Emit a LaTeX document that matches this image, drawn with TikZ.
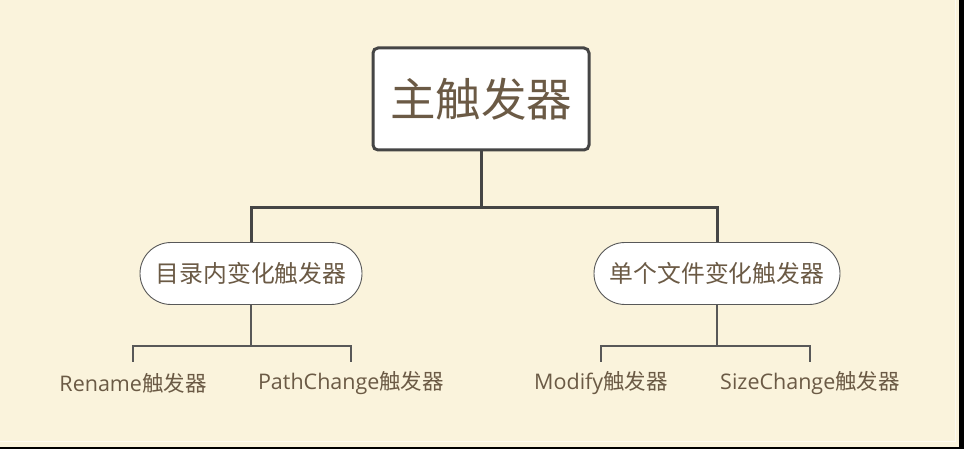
\documentclass[tikz,border=0pt]{standalone}
\usepackage{fontspec}
\setmainfont{Open Sans}
\newfontfamily\cjk{Noto Sans CJK SC}
\usetikzlibrary{shapes.misc}
\definecolor{bg}{HTML}{FAF3DC}
\definecolor{txt}{HTML}{6B5A45}
\definecolor{edge}{HTML}{454545}
\tikzset{
  rootbox/.style={draw=edge, line width=3pt, fill=white, rounded corners=5pt,
    minimum width=216pt, minimum height=102pt, text=txt, font=\cjk\fontsize{45.5}{50}\selectfont, inner sep=0pt},
  midbox/.style={draw=edge!90, line width=0.9pt, fill=white, rounded rectangle,
    minimum height=62pt, text=txt, font=\cjk\fontsize{23.8}{27}\selectfont, inner sep=0pt},
  leafbox/.style={text=txt, font=\fontsize{21.5}{25}\selectfont, minimum height=42pt, inner sep=0pt},
  thick line/.style={draw=edge, line width=3pt},
  thin line/.style={draw=edge!90, line width=1.5pt},
}
\begin{document}
\begin{tikzpicture}[x=1pt,y=-1pt]
\fill[bg] (0,0) rectangle (964,449);
\useasboundingbox (0,0) rectangle (964,449);
\fill[black] (959,0) rectangle (964,449);
\fill[black] (0,447) rectangle (964,449);
\draw[white!60!bg, line width=1pt] (955,0) -- (955,441) -- (0,441);

\node[rootbox] (root) at (481,99) {主触发器};
\node[midbox, minimum width=222pt] (c1) at (251,273.5) {目录内变化触发器};
\node[midbox, minimum width=246pt] (c2) at (717,273.5) {单个文件变化触发器};

\node[leafbox] (l1) at (133,383) {Rename{\cjk 触发器}};
\node[leafbox] (l2) at (351,383) {PathChange{\cjk 触发器}};
\node[leafbox] (l3) at (601,383) {Modify{\cjk 触发器}};
\node[leafbox] (l4) at (810,383) {SizeChange{\cjk 触发器}};

\coordinate (j0) at (481,208);
\draw[thick line] (root.south) -- (j0);
\draw[thick line] (j0) -| (c1.north);
\draw[thick line] (j0) -| (c2.north);

\coordinate (j1) at (c1.south |- 0,346);
\coordinate (j2) at (c2.south |- 0,346);
\draw[thin line] (c1.south) -- (j1);
\draw[thin line] (j1) -| (l1.north);
\draw[thin line] (j1) -| (l2.north);
\draw[thin line] (c2.south) -- (j2);
\draw[thin line] (j2) -| (l3.north);
\draw[thin line] (j2) -| (l4.north);
\end{tikzpicture}
\end{document}
